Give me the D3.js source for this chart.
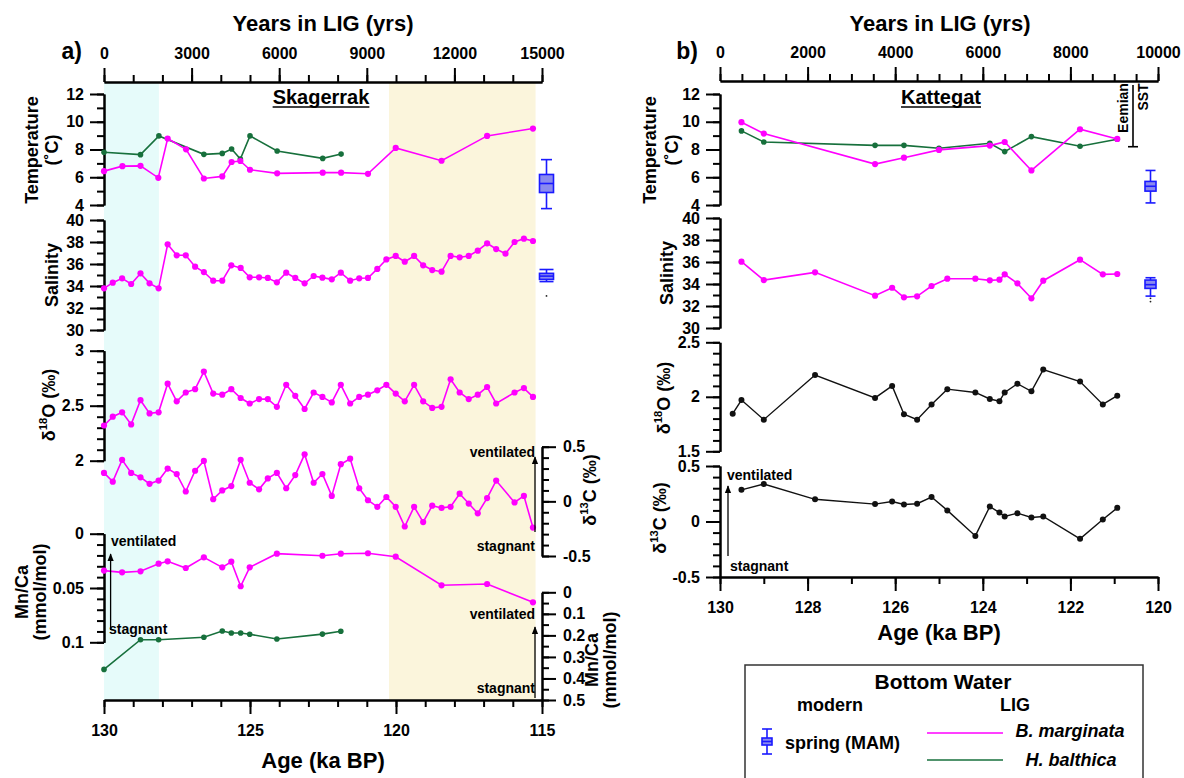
<!DOCTYPE html>
<html><head><meta charset="utf-8">
<script src="https://cdn.jsdelivr.net/npm/d3@7"></script>
<style>
body{margin:0;background:#fff;}
svg text{font-family:"Liberation Sans",Arial,sans-serif;font-weight:bold;fill:#000;}
</style></head><body>
<script>
// ---------------- DATA ----------------
// Skagerrak (panel a)
const skagBmTempAge = [130.0,129.37,128.75,128.14,127.82,127.19,126.58,125.95,125.63,125.33,125.0,124.07,122.51,121.88,120.96,120.01,118.44,116.88,115.31];
const skagBmTemp    = [6.44,6.8,6.82,5.96,8.79,8.01,5.91,6.06,7.1,7.17,6.54,6.28,6.33,6.33,6.25,8.11,7.19,8.98,9.51];
const skagHbTempAge = [130.0,128.75,128.12,126.58,125.95,125.63,125.33,125.0,124.07,122.51,121.88];
const skagHbTemp    = [7.8,7.63,8.98,7.65,7.72,8.04,7.31,8.98,7.89,7.36,7.67];
const skagSalAge = [130.0,129.70,129.38,129.07,128.75,128.44,128.13,127.82,127.51,127.20,126.88,126.58,126.26,125.95,125.64,125.32,125.01,124.69,124.39,124.08,123.76,123.45,123.13,122.82,122.52,122.20,121.89,121.57,121.26,120.96,120.64,120.33,120.01,119.70,119.38,119.07,118.76,118.44,118.13,117.82,117.51,117.20,116.88,116.57,116.25,115.94,115.62,115.31];
const skagSal    = [33.79,34.30,34.70,34.18,35.15,34.24,33.79,37.79,36.79,36.79,35.76,35.27,34.48,34.48,35.88,35.64,34.79,34.79,34.73,34.33,35.21,34.73,34.24,34.91,34.76,34.61,35.21,34.48,34.70,34.73,35.55,36.42,36.73,36.21,36.73,35.88,35.45,35.30,36.73,36.61,36.73,37.21,37.88,37.36,36.94,38.0,38.30,38.09];
const skagIsoAge = [130.0,129.70,129.38,129.07,128.75,128.44,128.13,127.82,127.51,127.20,126.88,126.58,126.26,125.95,125.64,125.32,125.01,124.69,124.39,124.08,123.76,123.45,123.13,122.82,122.52,122.20,121.89,121.57,121.26,120.96,120.64,120.33,120.01,119.70,119.38,119.07,118.76,118.44,118.13,117.82,117.51,117.20,116.88,116.57,115.94,115.62,115.31];
const skagO18 = [2.32,2.40,2.44,2.33,2.55,2.43,2.44,2.70,2.54,2.62,2.65,2.81,2.61,2.60,2.65,2.57,2.52,2.56,2.56,2.49,2.69,2.59,2.47,2.62,2.58,2.53,2.69,2.52,2.58,2.60,2.64,2.69,2.61,2.54,2.69,2.54,2.48,2.49,2.74,2.62,2.56,2.60,2.67,2.52,2.62,2.66,2.58];
const skagC13 = [0.26,0.18,0.38,0.26,0.22,0.16,0.19,0.30,0.25,0.09,0.28,0.37,0.02,0.10,0.14,0.38,0.17,0.11,0.21,0.26,0.12,0.24,0.43,0.17,0.25,0.05,0.34,0.39,0.12,0.01,-0.05,0.04,-0.05,-0.23,-0.05,-0.19,-0.04,-0.06,-0.05,0.07,-0.02,-0.11,0.03,0.19,-0.01,0.05,-0.24];
const skagBmMnAge = [130.0,129.38,128.75,128.13,127.82,127.20,126.58,125.95,125.64,125.32,125.01,124.08,122.52,121.89,120.96,120.01,118.44,116.88,115.31];
const skagBmMn    = [0.034,0.0356,0.0346,0.0276,0.0254,0.0316,0.0218,0.031,0.0258,0.0484,0.031,0.0184,0.0203,0.0184,0.018,0.0212,0.0475,0.0463,0.0632];
const skagHbMnAge = [130.0,128.75,128.13,126.58,125.95,125.64,125.32,125.01,124.08,122.52,121.89];
const skagHbMn    = [0.358,0.22,0.22,0.209,0.18,0.189,0.189,0.195,0.217,0.194,0.181];
// modern spring boxes: [min, q1, median, q3, max]
const skagModernTemp = [3.74,4.9,5.55,6.2,7.27];
const skagModernSal  = [34.4,34.6,34.9,35.15,35.5];
const skagModernSalOut = [33.1];
const skagBlueShade = [130,128.12];
const skagTanShade  = [120.24,115.22];

// Kattegat (panel b)
const katTempAge = [129.51,129.0,126.46,125.80,125.0,123.84,123.50,122.89,121.78,120.93];
const katBmTemp  = [9.97,9.15,6.95,7.41,7.97,8.28,8.54,6.49,9.46,8.76];
const katHbTemp  = [9.34,8.54,8.30,8.30,8.09,8.45,7.85,8.93,8.23,8.74];
const katSalAge = [129.51,129.0,127.83,126.46,126.07,125.80,125.50,125.17,124.81,124.17,123.84,123.62,123.50,123.21,122.89,122.62,121.78,121.26,120.93];
const katSal    = [36.03,34.36,35.06,32.94,33.66,32.79,32.88,33.82,34.48,34.48,34.33,34.39,34.88,34.06,32.7,34.3,36.21,34.88,34.91];
const katO18Age = [129.71,129.51,129.0,127.83,126.46,126.07,125.80,125.50,125.17,124.81,124.17,123.84,123.62,123.50,123.21,122.89,122.62,121.78,121.26,120.93];
const katO18    = [1.845,1.97,1.79,2.20,1.99,2.10,1.84,1.79,1.93,2.07,2.04,1.98,1.96,2.04,2.12,2.05,2.25,2.14,1.93,2.01];
const katC13Age = [129.51,129.0,127.83,126.46,126.07,125.80,125.50,125.17,124.81,124.17,123.84,123.62,123.50,123.21,122.89,122.62,121.78,121.26,120.93];
const katC13    = [0.285,0.337,0.20,0.157,0.18,0.153,0.16,0.22,0.10,-0.13,0.135,0.08,0.045,0.075,0.036,0.045,-0.156,0.018,0.123];
const katModernTemp = [4.15,5.0,5.35,5.7,6.49];
const katModernSal  = [32.9,33.6,33.94,34.36,34.57];
const katModernSalOut = [32.7,32.4];
const eemianSST = [8.2,12.65];

// tick values
const topTicksA = [0,3000,6000,9000,12000,15000];
const topTicksB = [0,2000,4000,6000,8000,10000];
const ageTicksA = [130,125,120,115];
const ageTicksB = [130,128,126,124,122,120];

// ---------------- DRAW ----------------
const MAG = '#ff00ff', GRN = '#17703c', BLK = '#111', BLU = '#1a1aff', BOXF = '#8a8aee';
const FONT = '"Liberation Sans", Arial, sans-serif';
const svg = d3.select('body').append('svg').attr('width',1184).attr('height',778);
const defs = svg.append('defs');
defs.append('marker').attr('id','arr').attr('viewBox','0 0 10 10').attr('refX',9).attr('refY',5)
  .attr('markerWidth',6).attr('markerHeight',7).attr('orient','auto-start-reverse')
  .append('path').attr('d','M0,1L10,5L0,9Z').attr('fill','#000');

const rng = (a,b,s)=>{const r=[];for(let v=a;v<=b+1e-9;v+=s)r.push(+v.toFixed(4));return r;};

function axis(orient, scale, pos, major, minor, fmt, pad){
  const mk = {left:d3.axisLeft,right:d3.axisRight,top:d3.axisTop,bottom:d3.axisBottom}[orient];
  const tr = (orient==='left'||orient==='right')?`translate(${pos},0)`:`translate(0,${pos})`;
  const g1 = svg.append('g').attr('transform',tr).call(mk(scale).tickValues(minor).tickSize(7).tickSizeOuter(0).tickFormat(''));
  const g2 = svg.append('g').attr('transform',tr).call(mk(scale).tickValues(major).tickSize(14).tickSizeOuter(0).tickPadding(pad).tickFormat(fmt));
  [g1,g2].forEach(g=>{g.selectAll('path,line').attr('stroke','#000').attr('stroke-width',2);});
  g2.attr('font-family',FONT).attr('font-size',16).attr('font-weight','bold');
  g2.selectAll('text').attr('fill','#000');
  return g2;
}
const S = d=>String(d);

function series(xs, ages, vals, ys, color, r, w){
  const pts = ages.map((a,i)=>[xs(a), ys(vals[i])]);
  svg.append('path').attr('d',d3.line()(pts)).attr('fill','none').attr('stroke',color).attr('stroke-width',w||1.6);
  svg.append('g').selectAll('circle').data(pts).join('circle').attr('cx',d=>d[0]).attr('cy',d=>d[1]).attr('r',r).attr('fill',color);
}
function box(x, ys, st, hw, cw, outs){
  const g = svg.append('g').attr('stroke',BLU).attr('stroke-width',1.6);
  g.append('line').attr('x1',x).attr('x2',x).attr('y1',ys(st[0])).attr('y2',ys(st[4]));
  g.append('line').attr('x1',x-cw).attr('x2',x+cw).attr('y1',ys(st[0])).attr('y2',ys(st[0]));
  g.append('line').attr('x1',x-cw).attr('x2',x+cw).attr('y1',ys(st[4])).attr('y2',ys(st[4]));
  g.append('rect').attr('x',x-hw).attr('width',2*hw).attr('y',ys(st[3])).attr('height',ys(st[1])-ys(st[3])).attr('fill',BOXF);
  g.append('line').attr('x1',x-hw).attr('x2',x+hw).attr('y1',ys(st[2])).attr('y2',ys(st[2]));
  (outs||[]).forEach(o=>svg.append('circle').attr('cx',x).attr('cy',ys(o)).attr('r',0.9).attr('fill','#222'));
}
function txt(x,y,s,fs,anchor,opts){
  const t = svg.append('text').attr('x',x).attr('y',y).attr('font-size',fs).attr('text-anchor',anchor||'start')
    .attr('dominant-baseline','central').text(s);
  if(opts&&opts.italic) t.attr('font-style','italic');
  return t;
}
function vtext(x,y,parts,fs){
  const t = svg.append('text').attr('transform',`translate(${x},${y}) rotate(-90)`).attr('font-size',fs)
    .attr('text-anchor','middle').attr('dominant-baseline','central');
  parts.forEach(p=>{
    if(typeof p==='string') t.append('tspan').text(p);
    else t.append('tspan').attr('font-size',fs*0.62).attr('baseline-shift','super').text(p.sup);
  });
  return t;
}
function arrow(x,y1,y2){
  svg.append('line').attr('x1',x).attr('x2',x).attr('y1',y1).attr('y2',y2).attr('stroke','#000').attr('stroke-width',1.3).attr('marker-end','url(#arr)');
}
function underlined(x,y,s,fs){
  const t = txt(x,y,s,fs,'middle');
  const w = t.node().getComputedTextLength();
  svg.append('line').attr('x1',x-w/2).attr('x2',x+w/2).attr('y1',y+fs*0.5).attr('y2',y+fs*0.5).attr('stroke','#000').attr('stroke-width',1.6);
}

// ===== Panel a =====
const xA = d3.scaleLinear().domain([130,115]).range([104,542]);
const xAT = d3.scaleLinear().domain([0,15000]).range([104,542]);
const yAT = d3.scaleLinear().domain([4,12]).range([205,94]);
const yAS = d3.scaleLinear().domain([30,40]).range([330,220]);
const yAO = d3.scaleLinear().domain([2,3]).range([460.7,350.7]);
const yAC = d3.scaleLinear().domain([-0.5,0.5]).range([556,446.7]);
const yAM1 = d3.scaleLinear().domain([0,0.1]).range([533.7,642.3]);
const yAM2 = d3.scaleLinear().domain([0,0.5]).range([592.3,700]);

svg.append('rect').attr('x',xA(skagBlueShade[0])).attr('width',xA(skagBlueShade[1])-xA(skagBlueShade[0]))
  .attr('y',83).attr('height',617).attr('fill','#e6fbfa');
svg.append('rect').attr('x',xA(skagTanShade[0])).attr('width',xA(skagTanShade[1])-xA(skagTanShade[0]))
  .attr('y',83).attr('height',617).attr('fill','#fbf5dc');

axis('top',xAT,82,topTicksA,rng(0,15000,1000),S,9);
axis('bottom',xA,700,ageTicksA,rng(115,130,1),S,11);
axis('left',yAT,104,rng(4,12,2),rng(4,12,1),S,6);
axis('left',yAS,104,rng(30,40,2),rng(30,40,1),S,6);
axis('left',yAO,104,[2,2.5,3],rng(2,3,0.1),S,6);
axis('left',yAM1,104,[0,0.05,0.1],rng(0,0.1,0.01),S,6);
axis('right',yAC,542,[-0.5,0,0.5],rng(-0.5,0.5,0.1),S,7);
axis('right',yAM2,542,rng(0,0.5,0.1),rng(0,0.5,0.05),S,7);

series(xA,skagHbTempAge,skagHbTemp,yAT,GRN,2.8);
series(xA,skagBmTempAge,skagBmTemp,yAT,MAG,3.1);
series(xA,skagSalAge,skagSal,yAS,MAG,3.1);
series(xA,skagIsoAge,skagO18,yAO,MAG,3.1);
series(xA,skagIsoAge,skagC13,yAC,MAG,3.1);
series(xA,skagBmMnAge,skagBmMn,yAM1,MAG,3.1);
series(xA,skagHbMnAge,skagHbMn,yAM2,GRN,2.8);
box(546.5,yAT,skagModernTemp,7,5.5);
box(546.5,yAS,skagModernSal,7,7,skagModernSalOut);

txt(323,23,'Years in LIG (yrs)',22,'middle');
txt(82,51,'a)',23,'end');
underlined(321,97,'Skagerrak',20);
txt(323,760,'Age (ka BP)',22,'middle');
vtext(32,150,['Temperature'],18); vtext(52,150,['(˚C)'],18);
vtext(52,275,['Salinity'],18);
vtext(49,405,['δ',{sup:'18'},'O (‰)'],18);
vtext(22,592,['Mn/Ca'],18); vtext(40,592,['(mmol/mol)'],18);
vtext(590,490,['δ',{sup:'13'},'C (‰)'],18);
vtext(592,660,['Mn/Ca'],18); vtext(610,660,['(mmol/mol)'],18);

txt(111,541,'ventilated',14); arrow(110.6,630,554); txt(109,629,'stagnant',14);
txt(535,452,'ventilated',14,'end'); arrow(535,532,457); txt(535,546,'stagnant',14,'end');
txt(535,614,'ventilated',14,'end'); arrow(535,698,627); txt(535,688,'stagnant',14,'end');

// ===== Panel b =====
const xB = d3.scaleLinear().domain([130,120]).range([720,1158]);
const xBT = d3.scaleLinear().domain([0,10000]).range([720,1158]);
const yBT = d3.scaleLinear().domain([4,12]).range([205,94]);
const yBS = d3.scaleLinear().domain([30,40]).range([328,218]);
const yBO = d3.scaleLinear().domain([1.5,2.5]).range([451.3,342.3]);
const yBC = d3.scaleLinear().domain([-0.5,0.5]).range([577,466]);

axis('top',xBT,81,topTicksB,rng(0,10000,500),S,9);
axis('bottom',xB,577,ageTicksB,rng(120,130,1),S,11);
axis('left',yBT,720,rng(4,12,2),rng(4,12,1),S,6);
axis('left',yBS,720,rng(30,40,2),rng(30,40,1),S,6);
axis('left',yBO,720,[1.5,2,2.5],rng(1.5,2.5,0.1),S,6);
axis('left',yBC,720,[-0.5,0,0.5],rng(-0.5,0.5,0.1),S,6);

series(xB,katTempAge,katHbTemp,yBT,GRN,2.8);
series(xB,katTempAge,katBmTemp,yBT,MAG,3.1);
series(xB,katSalAge,katSal,yBS,MAG,3.1);
series(xB,katO18Age,katO18,yBO,BLK,3,1.4);
series(xB,katC13Age,katC13,yBC,BLK,3,1.4);
box(1150.5,yBT,katModernTemp,5.5,5);
box(1150.5,yBS,katModernSal,5.5,5,katModernSalOut);

// Eemian SST bracket
svg.append('line').attr('x1',1133).attr('x2',1133).attr('y1',yBT(eemianSST[1])).attr('y2',yBT(eemianSST[0])).attr('stroke','#000').attr('stroke-width',1.6);
svg.append('line').attr('x1',1128).attr('x2',1138).attr('y1',yBT(eemianSST[0])).attr('y2',yBT(eemianSST[0])).attr('stroke','#000').attr('stroke-width',1.6);
vtext(1123,108,['Eemian'],14); vtext(1143,97,['SST'],14);

txt(940,23,'Years in LIG (yrs)',22,'middle');
txt(698,51,'b)',23,'end');
underlined(941,97,'Kattegat',20);
txt(939,632,'Age (ka BP)',22,'middle');
vtext(650,150,['Temperature'],18); vtext(672,150,['(˚C)'],18);
vtext(667,273,['Salinity'],18);
vtext(664,398,['δ',{sup:'18'},'O (‰)'],18);
vtext(660,518,['δ',{sup:'13'},'C (‰)'],18);
txt(727,475,'ventilated',14); arrow(728,556,486); txt(730,566,'stagnant',14);

// ===== Legend =====
svg.append('rect').attr('x',745).attr('y',665).attr('width',398).attr('height',125).attr('fill','#fff').attr('stroke','#333').attr('stroke-width',1.5);
txt(943,681,'Bottom Water',21,'middle');
txt(830,705,'modern',18,'middle');
txt(1015,705,'LIG',18,'middle');
const yL = d3.scaleLinear().domain([0,1]).range([754,729]);
box(767,yL,[0,0.36,0.5,0.64,1],5,5);
txt(785,743,'spring (MAM)',18);
svg.append('line').attr('x1',927).attr('x2',1003).attr('y1',733).attr('y2',733).attr('stroke',MAG).attr('stroke-width',1.6);
svg.append('line').attr('x1',927).attr('x2',1003).attr('y1',760).attr('y2',760).attr('stroke',GRN).attr('stroke-width',1.6);
txt(1070,731,'B. marginata',18,'middle',{italic:true});
txt(1071,760,'H. balthica',18,'middle',{italic:true});
</script></body></html>
